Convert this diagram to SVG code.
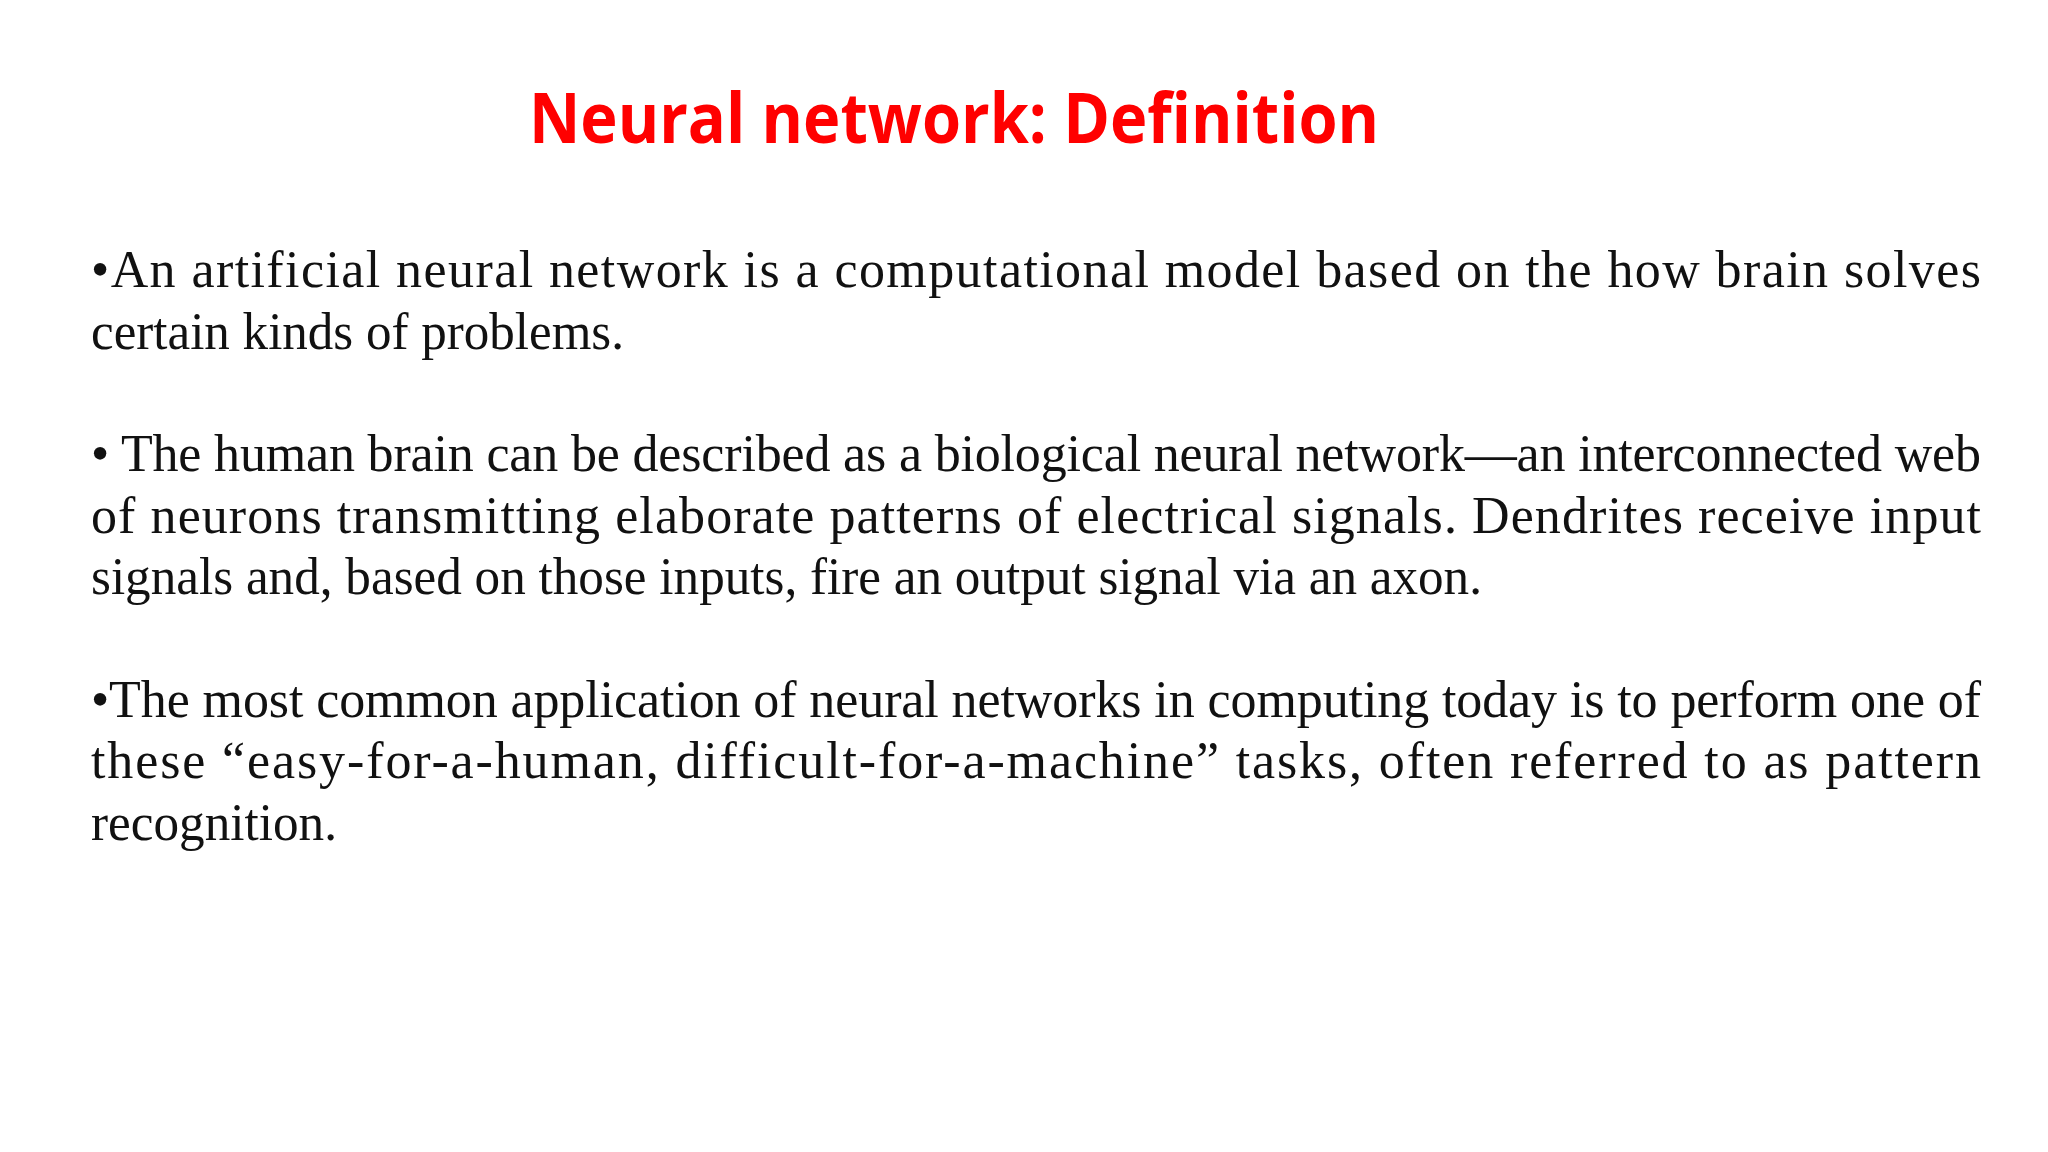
<svg xmlns="http://www.w3.org/2000/svg" width="2048" height="1152" viewBox="0 0 2048 1152">
<style>
.t{font-family:"Open Sans","Liberation Sans",sans-serif;font-weight:bold;font-size:70px;fill:#ff0000}
.b{font-family:"Liberation Serif","Times New Roman",serif;font-size:52px;fill:#111}
</style>
<rect width="2048" height="1152" fill="#fff"/>
<g id="title"><text class="t" x="529" y="143" textLength="850" lengthAdjust="spacingAndGlyphs">Neural network: Definition</text></g>
<g id="p1">
<text class="b" x="91" y="287" textLength="1890" lengthAdjust="spacing">•An artificial neural network is a computational model based on the how brain solves</text>
<text class="b" x="91" y="349" textLength="533" lengthAdjust="spacingAndGlyphs">certain kinds of problems.</text>
</g>
<g id="p2">
<text class="b" x="91" y="471" textLength="1890" lengthAdjust="spacing">• The human brain can be described as a biological neural network—an interconnected web</text>
<text class="b" x="91" y="533" textLength="1890" lengthAdjust="spacing">of neurons transmitting elaborate patterns of electrical signals. Dendrites receive input</text>
<text class="b" x="91" y="594" textLength="1391" lengthAdjust="spacingAndGlyphs">signals and, based on those inputs, fire an output signal via an axon.</text>
</g>
<g id="p3">
<text class="b" x="91" y="717" textLength="1890" lengthAdjust="spacing">•The most common application of neural networks in computing today is to perform one of</text>
<text class="b" x="91" y="778" textLength="1890" lengthAdjust="spacing">these “easy-for-a-human, difficult-for-a-machine” tasks, often referred to as pattern</text>
<text class="b" x="91" y="840" textLength="246" lengthAdjust="spacingAndGlyphs">recognition.</text>
</g>
</svg>
